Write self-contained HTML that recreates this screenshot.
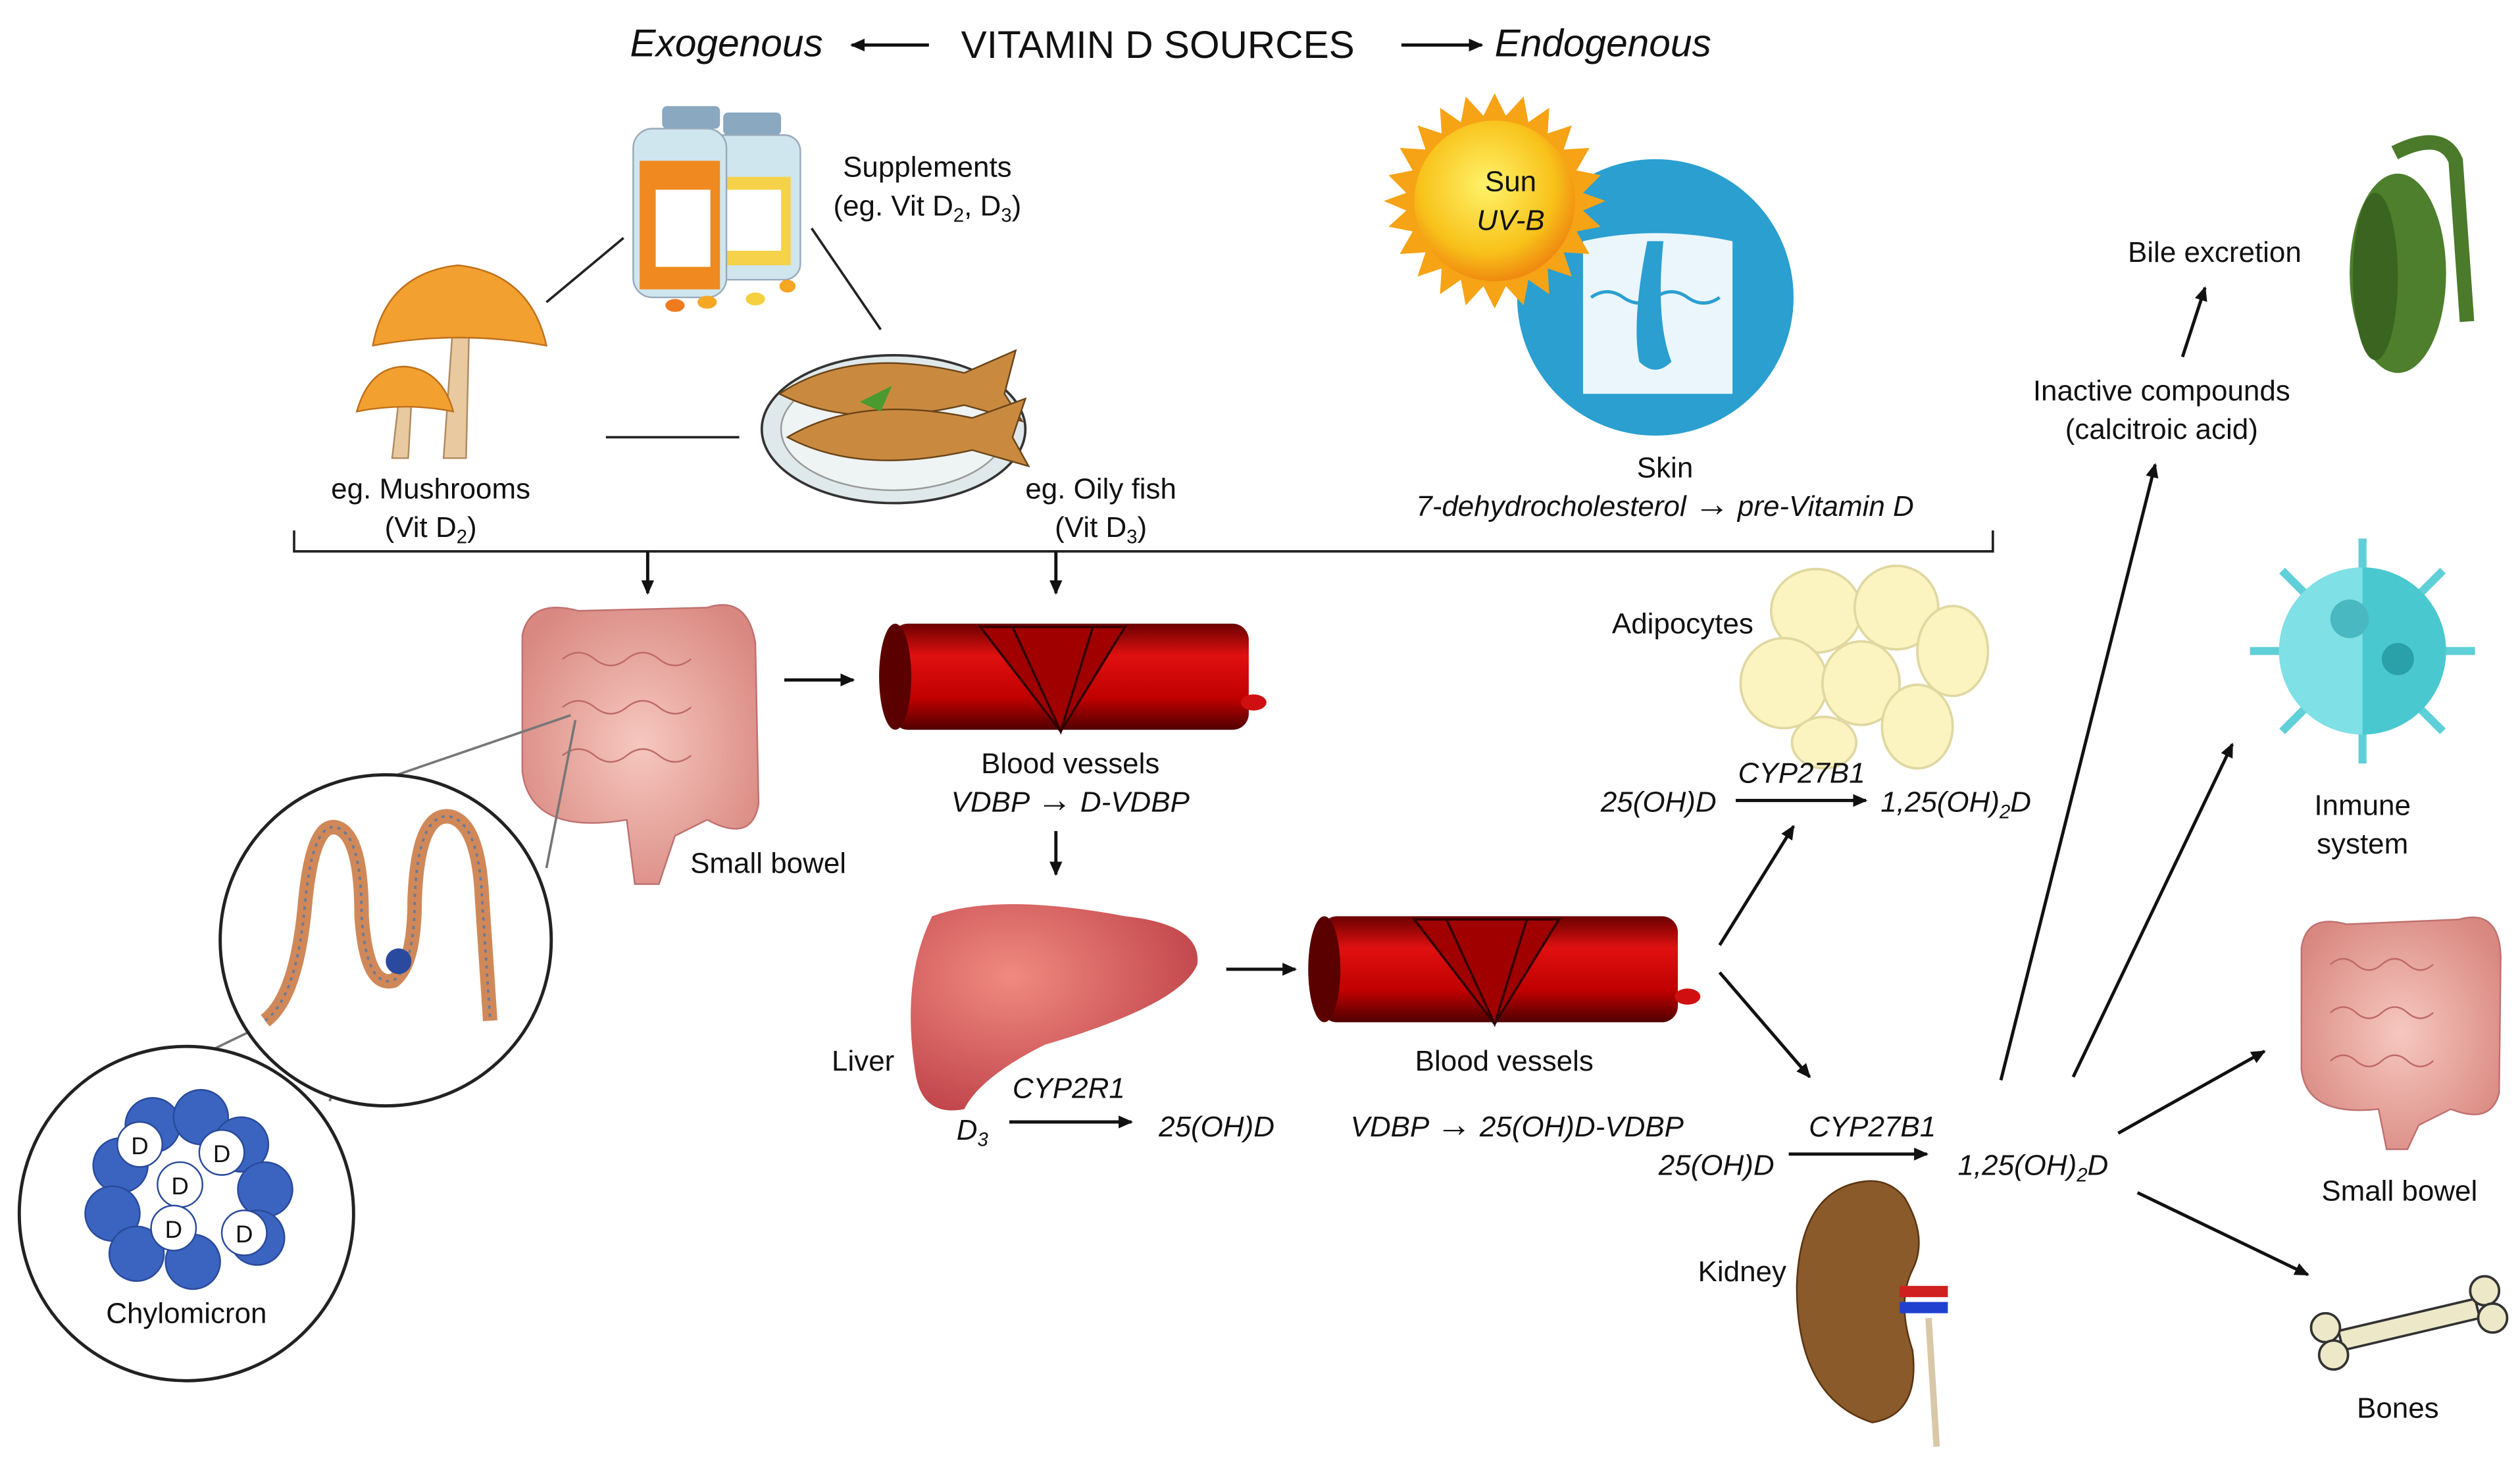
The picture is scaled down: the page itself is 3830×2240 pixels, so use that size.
<!DOCTYPE html>
<html><head><meta charset="utf-8">
<style>
html,body{margin:0;padding:0;background:#fff;}
svg{display:block;}
text{font-family:"Liberation Sans",sans-serif;fill:#111;}
.i{font-style:italic;}
.ar{font-size:22px;font-weight:bold;font-style:normal;}
</style></head>
<body>
<svg width="3830" height="2240" viewBox="0 0 1568 917" xmlns="http://www.w3.org/2000/svg">
<defs>
<marker id="a" markerWidth="10" markerHeight="10" refX="8" refY="5" orient="auto" markerUnits="userSpaceOnUse">
<path d="M0,1 L9,5 L0,9 Z" fill="#111"/></marker>
<radialGradient id="sun" cx="0.45" cy="0.4" r="0.6"><stop offset="0" stop-color="#fff36a"/><stop offset="0.7" stop-color="#f8c21a"/><stop offset="1" stop-color="#f08a10"/></radialGradient>
<linearGradient id="vess" x1="0" y1="0" x2="0" y2="1"><stop offset="0" stop-color="#6a0000"/><stop offset="0.3" stop-color="#e01010"/><stop offset="0.7" stop-color="#c00000"/><stop offset="1" stop-color="#500000"/></linearGradient>
<radialGradient id="liv" cx="0.35" cy="0.35" r="0.7"><stop offset="0" stop-color="#f08a80"/><stop offset="1" stop-color="#c0444a"/></radialGradient>
<radialGradient id="gut" cx="0.5" cy="0.5" r="0.6"><stop offset="0" stop-color="#f6c8c0"/><stop offset="1" stop-color="#d88880"/></radialGradient>
</defs>

<text x="392" y="35" font-size="24" class="i">Exogenous</text>
<line x1="578" y1="28" x2="530" y2="28" stroke="#111" stroke-width="2" marker-end="url(#a)"/>
<text x="598" y="36" font-size="24">VITAMIN D SOURCES</text>
<line x1="872" y1="28" x2="922" y2="28" stroke="#111" stroke-width="2" marker-end="url(#a)"/>
<text x="930" y="35" font-size="24" class="i">Endogenous</text>

<g>
<rect x="412" y="66" width="36" height="14" rx="3" fill="#8aa8c0"/>
<rect x="450" y="70" width="36" height="14" rx="3" fill="#8aa8c0"/>
<rect x="440" y="84" width="58" height="90" rx="10" fill="#cfe6ee" stroke="#9ab" />
<rect x="446" y="110" width="46" height="55" fill="#f6d24a"/>
<rect x="452" y="118" width="34" height="38" fill="#fff"/>
<rect x="394" y="80" width="58" height="105" rx="12" fill="#cfe6ee" stroke="#9ab"/>
<rect x="398" y="100" width="50" height="80" fill="#f08a20"/>
<rect x="408" y="118" width="34" height="48" fill="#fff"/>
<ellipse cx="420" cy="190" rx="6" ry="4" fill="#f07a20"/><ellipse cx="440" cy="188" rx="6" ry="4" fill="#f5a623"/>
<ellipse cx="470" cy="186" rx="6" ry="4" fill="#f5d040"/><ellipse cx="490" cy="178" rx="5" ry="4" fill="#f5a623"/>
</g>
<text x="577" y="110" font-size="18" text-anchor="middle">Supplements</text>
<text x="577" y="134" font-size="18" text-anchor="middle">(eg. Vit D<tspan font-size="12" dy="4">2</tspan><tspan dy="-4">, D</tspan><tspan font-size="12" dy="4">3</tspan><tspan dy="-4">)</tspan></text>

<g>
<path d="M282,200 L276,285 L290,285 L292,200 Z" fill="#e8c9a0" stroke="#b08a60"/>
<path d="M232,215 Q240,170 285,165 Q330,170 340,215 Q285,205 232,215 Z" fill="#f2a030" stroke="#c0701a"/>
<path d="M248,250 L244,285 L254,285 L256,250 Z" fill="#e8c9a0" stroke="#b08a60"/>
<path d="M222,256 Q230,228 252,228 Q275,230 282,256 Q252,250 222,256 Z" fill="#f2a030" stroke="#c0701a"/>
</g>
<line x1="340" y1="188" x2="388" y2="148" stroke="#222" stroke-width="1.5"/>
<line x1="505" y1="142" x2="548" y2="205" stroke="#222" stroke-width="1.5"/>
<line x1="377" y1="272" x2="460" y2="272" stroke="#222" stroke-width="1.5"/>

<ellipse cx="556" cy="267" rx="82" ry="46" fill="#dfe8ea" stroke="#333" stroke-width="1.5"/>
<ellipse cx="556" cy="267" rx="70" ry="38" fill="#eef3f4" stroke="#999"/>
<path d="M485,245 Q530,215 600,232 L632,218 L625,245 L636,262 L600,252 Q530,268 485,245 Z" fill="#c98a40" stroke="#6a4418"/>
<path d="M490,272 Q535,245 605,260 L638,248 L630,272 L640,290 L605,280 Q535,296 490,272 Z" fill="#c98a40" stroke="#6a4418"/>
<path d="M535,250 L555,240 L548,256 Z" fill="#4a9a30"/>
<text x="268" y="310" font-size="18" text-anchor="middle">eg. Mushrooms</text>
<text x="268" y="334" font-size="18" text-anchor="middle">(Vit D<tspan font-size="12" dy="4">2</tspan><tspan dy="-4">)</tspan></text>
<text x="685" y="310" font-size="18" text-anchor="middle">eg. Oily fish</text>
<text x="685" y="334" font-size="18" text-anchor="middle">(Vit D<tspan font-size="12" dy="4">3</tspan><tspan dy="-4">)</tspan></text>

<circle cx="1030" cy="185" r="86" fill="#2a9fd0"/>
<path d="M985,150 Q1030,140 1078,150 L1078,245 L985,245 Z" fill="#fff" opacity="0.9"/>
<path d="M990,185 Q1000,178 1010,185 T1030,185 T1050,185 T1070,185" stroke="#2a9fd0" stroke-width="2" fill="none"/>
<path d="M1025,150 Q1015,200 1020,225 Q1030,235 1040,225 Q1030,200 1035,150 Z" fill="#2a9fd0"/>
<g>
<polygon fill="#f6a316" points="930,58 937,72 948,60 951,76 964,67 963,83 978,78 973,93 989,92 981,106 996,109 985,120 999,125 985,131 996,141 981,144 989,158 973,157 978,172 963,167 964,183 951,174 948,190 937,178 930,192 923,178 912,190 909,174 896,183 897,167 882,172 887,157 871,158 879,144 864,141 875,131 861,125 875,120 864,109 879,106 871,92 887,93 882,78 897,83 896,67 909,76 912,60 923,72"/>
<circle cx="930" cy="125" r="50" fill="url(#sun)"/>
</g>
<text x="940" y="119" font-size="18" text-anchor="middle">Sun</text>
<text x="940" y="143" font-size="18" text-anchor="middle" class="i">UV-B</text>
<text x="1036" y="297" font-size="18" text-anchor="middle">Skin</text>
<text x="1036" y="321" font-size="18" text-anchor="middle" class="i">7-dehydrocholesterol <tspan class="ar">→</tspan> pre-Vitamin D</text>

<path d="M183,330 L183,343 L1240,343 L1240,330" stroke="#222" stroke-width="1.5" fill="none"/>
<line x1="403" y1="343" x2="403" y2="369" stroke="#111" stroke-width="2" marker-end="url(#a)"/>
<line x1="657" y1="343" x2="657" y2="369" stroke="#111" stroke-width="2" marker-end="url(#a)"/>

<path d="M325,395 Q330,372 360,380 L440,378 Q465,370 470,400 L472,500 Q468,525 440,510 L420,520 L410,550 L395,550 L390,510 Q330,520 325,480 Z" fill="url(#gut)" stroke="#c07070"/>
<path d="M350,410 q10,-8 20,0 t20,0 t20,0 t20,0 M350,440 q10,-8 20,0 t20,0 t20,0 t20,0 M350,470 q10,-8 20,0 t20,0 t20,0 t20,0" stroke="#c06a68" fill="none"/>
<text x="478" y="543" font-size="18" text-anchor="middle">Small bowel</text>
<line x1="488" y1="423" x2="531" y2="423" stroke="#111" stroke-width="2" marker-end="url(#a)"/>

<g>
<rect x="555" y="388" width="222" height="66" rx="10" fill="url(#vess)"/>
<ellipse cx="557" cy="421" rx="10" ry="33" fill="#5a0000"/>
<path d="M610,390 L660,455 L700,390 Z" fill="#a00000" stroke="#300" stroke-width="1.5"/>
<path d="M630,390 L660,455 L680,390" stroke="#300" fill="none" stroke-width="1.5"/>
<ellipse cx="780" cy="437" rx="8" ry="5" fill="#d01010"/>
</g>
<text x="666" y="481" font-size="18" text-anchor="middle">Blood vessels</text>
<text x="666" y="505" font-size="18" text-anchor="middle" class="i">VDBP <tspan class="ar">→</tspan> D-VDBP</text>
<line x1="657" y1="517" x2="657" y2="544" stroke="#111" stroke-width="2" marker-end="url(#a)"/>

<path d="M580,570 Q620,555 700,570 Q748,575 745,600 Q735,625 650,650 Q610,670 600,690 Q575,695 570,670 Q560,610 580,570 Z" fill="url(#liv)"/>
<text x="537" y="666" font-size="18" text-anchor="middle">Liver</text>
<text x="665" y="683" font-size="18" text-anchor="middle" class="i">CYP2R1</text>
<text x="605" y="709" font-size="18" text-anchor="middle" class="i">D<tspan font-size="12" dy="4">3</tspan></text>
<line x1="628" y1="698" x2="704" y2="698" stroke="#111" stroke-width="2" marker-end="url(#a)"/>
<text x="757" y="707" font-size="18" text-anchor="middle" class="i">25(OH)D</text>
<line x1="763" y1="603" x2="806" y2="603" stroke="#111" stroke-width="2" marker-end="url(#a)"/>

<g>
<rect x="822" y="570" width="222" height="66" rx="10" fill="url(#vess)"/>
<ellipse cx="824" cy="603" rx="10" ry="33" fill="#5a0000"/>
<path d="M880,572 L930,637 L970,572 Z" fill="#a00000" stroke="#300" stroke-width="1.5"/>
<path d="M900,572 L930,637 L950,572" stroke="#300" fill="none" stroke-width="1.5"/>
<ellipse cx="1050" cy="620" rx="8" ry="5" fill="#d01010"/>
</g>
<text x="936" y="666" font-size="18" text-anchor="middle">Blood vessels</text>
<text x="944" y="707" font-size="18" text-anchor="middle" class="i">VDBP <tspan class="ar">→</tspan> 25(OH)D-VDBP</text>

<g fill="#fbf3c0" stroke="#e0d8a0" stroke-width="1.5">
<ellipse cx="1130" cy="380" rx="28" ry="26"/><ellipse cx="1180" cy="378" rx="26" ry="26"/>
<ellipse cx="1215" cy="405" rx="22" ry="28"/><ellipse cx="1110" cy="425" rx="27" ry="28"/>
<ellipse cx="1158" cy="425" rx="24" ry="26"/><ellipse cx="1193" cy="452" rx="22" ry="26"/>
<ellipse cx="1135" cy="462" rx="20" ry="16"/>
</g>
<text x="1047" y="394" font-size="18" text-anchor="middle">Adipocytes</text>
<text x="1032" y="505" font-size="18" text-anchor="middle" class="i">25(OH)D</text>
<text x="1121" y="487" font-size="18" text-anchor="middle" class="i">CYP27B1</text>
<line x1="1080" y1="498" x2="1161" y2="498" stroke="#111" stroke-width="2" marker-end="url(#a)"/>
<text x="1217" y="505" font-size="18" text-anchor="middle" class="i">1,25(OH)<tspan font-size="12" dy="4">2</tspan><tspan dy="-4">D</tspan></text>
<line x1="1070" y1="588" x2="1116" y2="514" stroke="#111" stroke-width="2" marker-end="url(#a)"/>
<line x1="1070" y1="605" x2="1126" y2="670" stroke="#111" stroke-width="2" marker-end="url(#a)"/>

<text x="1165" y="707" font-size="18" text-anchor="middle" class="i">CYP27B1</text>
<text x="1068" y="731" font-size="18" text-anchor="middle" class="i">25(OH)D</text>
<line x1="1113" y1="718" x2="1199" y2="718" stroke="#111" stroke-width="2" marker-end="url(#a)"/>
<text x="1265" y="731" font-size="18" text-anchor="middle" class="i">1,25(OH)<tspan font-size="12" dy="4">2</tspan><tspan dy="-4">D</tspan></text>
<path d="M1160,735 Q1120,740 1118,800 Q1118,870 1165,885 Q1195,880 1190,840 Q1180,810 1190,790 Q1200,770 1185,745 Q1175,733 1160,735 Z" fill="#8a5a2a" stroke="#5a3410"/>
<rect x="1182" y="800" width="30" height="7" fill="#d02020"/><rect x="1182" y="810" width="30" height="7" fill="#2040d0"/>
<path d="M1200,820 L1205,900" stroke="#d8c8a8" stroke-width="4"/>
<text x="1084" y="797" font-size="18" text-anchor="middle">Kidney</text>

<line x1="1245" y1="672" x2="1341" y2="289" stroke="#111" stroke-width="2" marker-end="url(#a)"/>
<line x1="1290" y1="670" x2="1389" y2="463" stroke="#111" stroke-width="2" marker-end="url(#a)"/>
<line x1="1318" y1="705" x2="1409" y2="654" stroke="#111" stroke-width="2" marker-end="url(#a)"/>
<line x1="1330" y1="742" x2="1436" y2="793" stroke="#111" stroke-width="2" marker-end="url(#a)"/>

<text x="1345" y="249" font-size="18" text-anchor="middle">Inactive compounds</text>
<text x="1345" y="273" font-size="18" text-anchor="middle">(calcitroic acid)</text>
<line x1="1358" y1="222" x2="1372" y2="179" stroke="#111" stroke-width="2" marker-end="url(#a)"/>
<text x="1378" y="163" font-size="18" text-anchor="middle">Bile excretion</text>

<path d="M1490,95 Q1520,80 1528,100 L1535,200" stroke="#4a7a2a" stroke-width="9" fill="none"/>
<ellipse cx="1492" cy="170" rx="30" ry="62" fill="#4d7f2c"/>
<ellipse cx="1478" cy="172" rx="14" ry="52" fill="#3a6420"/>

<g stroke="#5fcfd8" stroke-width="5">
<line x1="1470" y1="405" x2="1470" y2="335"/><line x1="1470" y1="405" x2="1470" y2="475"/>
<line x1="1470" y1="405" x2="1400" y2="405"/><line x1="1470" y1="405" x2="1540" y2="405"/>
<line x1="1470" y1="405" x2="1420" y2="355"/><line x1="1470" y1="405" x2="1520" y2="355"/>
<line x1="1470" y1="405" x2="1420" y2="455"/><line x1="1470" y1="405" x2="1520" y2="455"/>
</g>
<circle cx="1470" cy="405" r="52" fill="#7fe0e6"/>
<path d="M1470,353 A52,52 0 0,1 1470,457 Z" fill="#4ac8d0"/>
<circle cx="1462" cy="385" r="12" fill="#4ab8c0"/><circle cx="1492" cy="410" r="10" fill="#2aa0a8"/>
<text x="1470" y="507" font-size="18" text-anchor="middle">Inmune</text>
<text x="1470" y="531" font-size="18" text-anchor="middle">system</text>

<path d="M1432,590 Q1435,568 1460,575 L1530,572 Q1555,565 1556,595 L1555,680 Q1550,700 1525,690 L1505,700 L1498,715 L1485,715 L1480,690 Q1435,695 1432,665 Z" fill="url(#gut)" stroke="#c07070"/>
<path d="M1450,600 q8,-7 16,0 t16,0 t16,0 t16,0 M1450,630 q8,-7 16,0 t16,0 t16,0 t16,0 M1450,660 q8,-7 16,0 t16,0 t16,0 t16,0" stroke="#c06a68" fill="none"/>
<text x="1493" y="747" font-size="18" text-anchor="middle">Small bowel</text>

<g fill="#ede8c8" stroke="#333" stroke-width="1.5">
<path d="M1455,828 L1540,808 L1543,820 L1458,840 Z"/>
<circle cx="1447" cy="826" r="9"/><circle cx="1452" cy="843" r="9"/>
<circle cx="1546" cy="803" r="9"/><circle cx="1551" cy="820" r="9"/>
</g>
<text x="1492" y="882" font-size="18" text-anchor="middle">Bones</text>

<line x1="355" y1="445" x2="180" y2="505" stroke="#777" stroke-width="1.5"/>
<line x1="358" y1="448" x2="340" y2="540" stroke="#777" stroke-width="1.5"/>
<line x1="248" y1="597" x2="35" y2="700" stroke="#777" stroke-width="1.5"/>
<line x1="250" y1="600" x2="205" y2="685" stroke="#777" stroke-width="1.5"/>

<circle cx="240" cy="585" r="103" fill="#fff" stroke="#222" stroke-width="2"/>
<g fill="none" stroke="#d08858" stroke-width="9">
<path d="M165,635 Q185,620 190,560 Q195,510 210,515 Q225,520 225,570 Q228,615 245,610 Q258,600 258,560 Q260,505 280,508 Q298,512 300,560 L305,635"/>
</g>
<g fill="none" stroke="#6a7a9a" stroke-width="1.5" stroke-dasharray="2,3">
<path d="M165,635 Q185,620 190,560 Q195,510 210,515 Q225,520 225,570 Q228,615 245,610 Q258,600 258,560 Q260,505 280,508 Q298,512 300,560 L305,635"/>
</g>
<circle cx="248" cy="598" r="8" fill="#2a4aa0"/>

<circle cx="116" cy="755" r="104" fill="#fff" stroke="#222" stroke-width="2"/>
<g fill="#3a64c0" stroke="#2a4a9a">
<circle cx="95" cy="700" r="17"/><circle cx="125" cy="695" r="17"/><circle cx="150" cy="712" r="17"/>
<circle cx="75" cy="725" r="17"/><circle cx="165" cy="740" r="17"/><circle cx="70" cy="755" r="17"/>
<circle cx="160" cy="770" r="17"/><circle cx="85" cy="780" r="17"/><circle cx="120" cy="785" r="17"/>
</g>
<g fill="#fff" stroke="#2a4a9a">
<circle cx="87" cy="712" r="14"/><circle cx="138" cy="717" r="14"/><circle cx="112" cy="737" r="14"/>
<circle cx="108" cy="764" r="14"/><circle cx="152" cy="767" r="14"/>
</g>
<g font-size="15" text-anchor="middle">
<text x="87" y="718">D</text><text x="138" y="723">D</text><text x="112" y="743">D</text>
<text x="108" y="770">D</text><text x="152" y="773">D</text>
</g>
<text x="116" y="823" font-size="18" text-anchor="middle">Chylomicron</text>
</svg>
</body></html>
